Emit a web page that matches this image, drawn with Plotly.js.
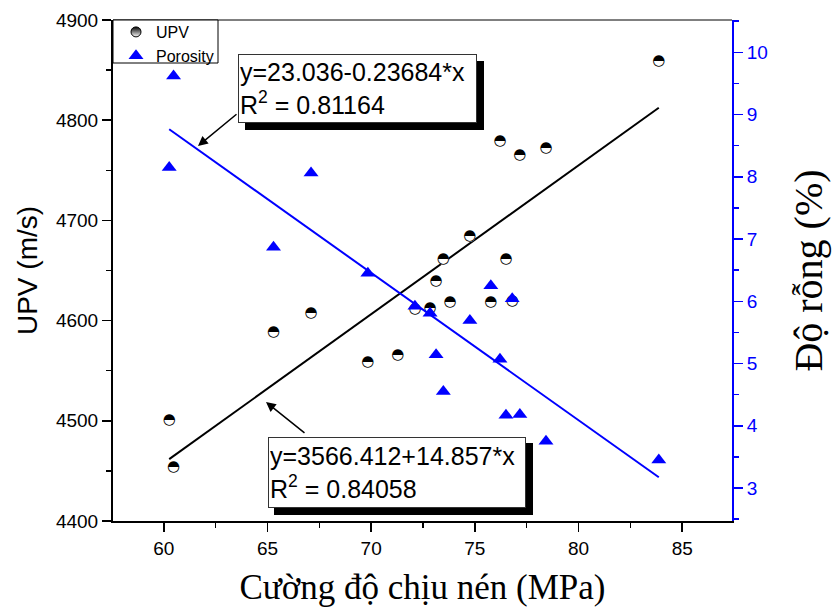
<!DOCTYPE html>
<html><head><meta charset="utf-8">
<script src="https://cdn.plot.ly/plotly-3.0.1.min.js"></script>
<style>html,body{margin:0;padding:0;background:#fff;}#chart{width:833px;height:612px;}</style>
</head><body><div id="chart"></div>
<script>
// ---- data ----
const strengthUPV = [60.26, 60.47, 65.29, 67.10, 69.84, 71.28, 72.11, 72.84, 73.13, 73.48, 73.80, 74.76, 75.77, 76.21, 76.50, 76.80, 77.17, 78.43, 83.87];
const upv = [4501, 4454, 4588, 4607, 4558, 4565, 4611, 4612, 4639, 4661, 4618, 4684, 4618, 4779, 4661, 4619, 4765, 4772, 4859];
const strengthPor = [60.26, 60.47, 65.29, 67.10, 69.84, 72.11, 72.84, 73.13, 73.48, 74.76, 75.77, 76.21, 76.50, 76.80, 77.17, 78.43, 83.87];
const porosity = [8.15, 9.62, 6.87, 8.06, 6.45, 5.92, 5.81, 5.14, 4.55, 5.69, 6.25, 5.07, 4.17, 6.04, 4.18, 3.75, 3.45];
const upvFitCoef = [3566.412, 14.857];     // y = a + b*x
const porFitCoef = [23.036, -0.23684];     // y = a + b*x
const upvFitR2 = 0.84058;
const porFitR2 = 0.81164;
const xTicks = [60, 65, 70, 75, 80, 85];
const upvTicks = [4400, 4500, 4600, 4700, 4800, 4900];
const porTicks = [3, 4, 5, 6, 7, 8, 9, 10];

const upvFitX = [Math.min(...strengthUPV), Math.max(...strengthUPV)];
const upvFitY = upvFitX.map(x => upvFitCoef[0] + upvFitCoef[1] * x);
const porFitX = [Math.min(...strengthPor), Math.max(...strengthPor)];
const porFitY = porFitX.map(x => porFitCoef[0] + porFitCoef[1] * x);

const SANS = 'Liberation Sans, Arial, sans-serif';
const SERIF = 'Liberation Serif, Times New Roman, serif';

const traces = [
  {x: upvFitX, y: upvFitY, mode: 'lines', line: {color: 'black', width: 2}, showlegend: false, hoverinfo: 'skip'},
  {x: porFitX, y: porFitY, yaxis: 'y2', mode: 'lines', line: {color: '#0000ff', width: 2}, showlegend: false, hoverinfo: 'skip'},
  // white bodies of the half-filled circles
  {x: strengthUPV, y: upv, mode: 'markers', marker: {symbol: 'circle', size: 11, color: 'white', line: {width: 0}}, showlegend: false},
  // half-filled circle glyphs
  {x: strengthUPV, y: upv, mode: 'text', text: strengthUPV.map(() => '\u25D3'), textposition: 'middle center',
   textfont: {family: 'DejaVu Sans', size: 15, color: 'black'}, showlegend: false},
  // legend entry for UPV
  {x: [null], y: [null], mode: 'markers', name: 'UPV',
   marker: {symbol: 'circle', size: 10, color: 'black', gradient: {type: 'vertical', color: 'white'}, line: {color: 'black', width: 1}}},
  {x: strengthPor, y: porosity, yaxis: 'y2', mode: 'markers', name: 'Porosity',
   marker: {symbol: 'triangle-up', size: 13, color: '#0000ff', line: {width: 0}}}
];

function px2paperX(px) { return (px - 113) / 619; }
function px2paperY(py) { return (521 - py) / 501; }

const layout = {
  width: 833, height: 612,
  margin: {l: 113, r: 101, t: 20, b: 91},
  paper_bgcolor: 'white', plot_bgcolor: 'white',
  showlegend: true,
  legend: {x: px2paperX(116), y: px2paperY(15), xanchor: 'left', yanchor: 'top', bgcolor: 'rgba(0,0,0,0)', borderwidth: 0,
           font: {family: SANS, size: 16, color: 'black'}, tracegroupgap: 0, itemwidth: 30},
  xaxis: {
    range: [57.55, 87.4], tickvals: xTicks, ticks: 'outside', ticklen: 9, tickwidth: 1.5, tickcolor: 'black',
    showline: true, linecolor: 'black', linewidth: 2, showgrid: false, zeroline: false,
    tickfont: {family: SANS, size: 19, color: 'black'},
    minor: {ticks: 'outside', ticklen: 5, tickwidth: 1.5, tickcolor: 'black', dtick: 2.5, tick0: 57.5, showgrid: false},
    title: {text: 'Cường độ chịu nén (MPa)', font: {family: SERIF, size: 35, color: 'black'}, standoff: 17}
  },
  yaxis: {
    range: [4400, 4900], tickvals: upvTicks, ticks: 'outside', ticklen: 9, tickwidth: 1.5, tickcolor: 'black',
    showline: true, linecolor: 'black', linewidth: 2, showgrid: false, zeroline: false,
    tickfont: {family: SANS, size: 19, color: 'black'},
    minor: {ticks: 'outside', ticklen: 5, tickwidth: 1.5, tickcolor: 'black', dtick: 50, tick0: 4400, showgrid: false},
    title: {text: 'UPV (m/s)', font: {family: SANS, size: 28, color: 'black'}, standoff: 10}
  },
  yaxis2: {
    overlaying: 'y', side: 'right', range: [2.47, 10.52], tickvals: porTicks, ticks: 'outside', ticklen: 9, tickwidth: 1.5,
    tickcolor: '#0000ff', showline: true, linecolor: '#0000ff', linewidth: 2, showgrid: false, zeroline: false,
    tickfont: {family: SANS, size: 19, color: '#0000ff'},
    minor: {ticks: 'outside', ticklen: 5, tickwidth: 1.5, tickcolor: '#0000ff', dtick: 0.5, tick0: 2.5, showgrid: false},
    title: {text: 'Độ rỗng (%)', font: {family: SERIF, size: 40, color: 'black'}, standoff: 27}
  },
  shapes: [
    {type: 'line', xref: 'paper', yref: 'paper', x0: 0, x1: 1, y0: 1, y1: 1, line: {color: 'black', width: 1}},
    // legend frame
    {type: 'rect', xref: 'paper', yref: 'paper', layer: 'above',
     x0: 0, x1: px2paperX(218), y0: px2paperY(63), y1: 1, fillcolor: 'white', line: {color: 'black', width: 1}},
    // drop shadows of the equation boxes
    {type: 'rect', xref: 'paper', yref: 'paper', layer: 'above',
     x0: px2paperX(245), x1: px2paperX(484), y0: px2paperY(130), y1: px2paperY(61), fillcolor: 'black', line: {width: 0}},
    {type: 'rect', xref: 'paper', yref: 'paper', layer: 'above',
     x0: px2paperX(274), x1: px2paperX(533), y0: px2paperY(515), y1: px2paperY(443), fillcolor: 'black', line: {width: 0}}
  ],
  annotations: [
    {xref: 'paper', yref: 'paper', x: px2paperX(238), y: px2paperY(54), xanchor: 'left', yanchor: 'top', align: 'left',
     showarrow: false, text: 'y=' + porFitCoef[0].toFixed(3) + '-' + Math.abs(porFitCoef[1]).toFixed(5) + '*x<br>R<sup>2</sup> = ' + porFitR2.toFixed(5),
     font: {family: SANS, size: 25, color: 'black'}, bgcolor: 'white', bordercolor: '#333', borderwidth: 1, borderpad: 1,
     width: 235, height: 65},
    {xref: 'paper', yref: 'paper', x: px2paperX(268), y: px2paperY(437), xanchor: 'left', yanchor: 'top', align: 'left',
     showarrow: false, text: 'y=' + upvFitCoef[0].toFixed(3) + '+' + upvFitCoef[1].toFixed(3) + '*x<br>R<sup>2</sup> = ' + upvFitR2.toFixed(5),
     font: {family: SANS, size: 25, color: 'black'}, bgcolor: 'white', bordercolor: '#333', borderwidth: 1, borderpad: 1,
     width: 254, height: 67},
    {xref: 'paper', yref: 'paper', x: px2paperX(198), y: px2paperY(146), text: '',
     showarrow: true, ax: 40, ay: -33, arrowhead: 2, arrowsize: 1.3, arrowwidth: 1.5, arrowcolor: 'black', standoff: 0, startstandoff: 0},
    {xref: 'paper', yref: 'paper', x: px2paperX(266), y: px2paperY(402), text: '',
     showarrow: true, ax: 40, ay: 32, arrowhead: 2, arrowsize: 1.3, arrowwidth: 1.5, arrowcolor: 'black', standoff: 0, startstandoff: 0}
  ]
};

Plotly.newPlot('chart', traces, layout, {displayModeBar: false, staticPlot: true});
</script>
</body></html>
